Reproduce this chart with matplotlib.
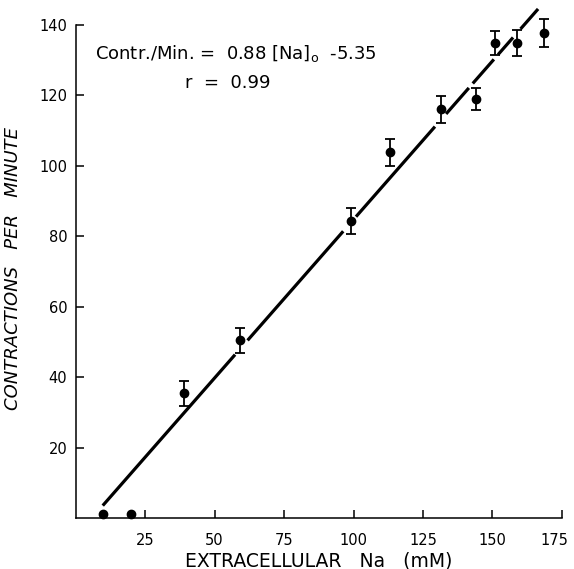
import numpy as np
import matplotlib
matplotlib.use("Agg")
import matplotlib.pyplot as plt
import matplotlib.transforms as mtransforms

# data
na_mM = [10, 20, 39, 59, 99, 113, 131.5, 144, 151, 158.7, 168.6]
contr = [1, 1, 35.4, 50.4, 84.3, 103.8, 116.0, 118.9, 134.8, 134.8, 137.6]
err = [0, 0, 3.5, 3.6, 3.6, 3.8, 3.8, 3.2, 3.5, 3.7, 4.0]

# regression line as drawn (broken where it passes the points)
fit_slope = 0.90
fit_intercept = -5.3
fit_pieces = [(9.8, 57.4), (61.9, 96.3), (100.9, 129.3), (133.3, 141.5),
              (142.9, 150.5), (152.0, 157.4), (160.1, 166.4)]

xticks = [25, 50, 75, 100, 125, 150, 175]
yticks = [20, 40, 60, 80, 100, 120, 140]

plt.rcParams['font.family'] = ['DejaVu Sans']

fig = plt.figure(figsize=(5.74, 5.69), dpi=100)
ax = fig.add_axes([75.5 / 574, 51 / 569, 486.5 / 574, 518 / 569])

for a, b in fit_pieces:
    xs = np.array([a, b])
    ax.plot(xs, fit_slope * xs + fit_intercept, color='black', lw=2.3,
            solid_capstyle='butt')

with_err = [i for i in range(len(na_mM)) if err[i] > 0]
ax.errorbar([na_mM[i] for i in with_err], [contr[i] for i in with_err],
            yerr=[err[i] for i in with_err], fmt='none', ecolor='black',
            elinewidth=1.3, capsize=3.5, capthick=1.3)
ax.plot(na_mM, contr, 'o', color='black', markersize=6, clip_on=False, zorder=5)

ax.set_xlim(0, 175)
ax.set_ylim(0, 147)
ax.spines['top'].set_visible(False)
ax.spines['right'].set_visible(False)
ax.spines['left'].set_bounds(0, 140)
ax.spines['left'].set_linewidth(1.1)
ax.spines['bottom'].set_linewidth(1.1)

ax.set_xticks(xticks)
ax.set_yticks(yticks)
ax.tick_params(direction='in', length=6, width=1.1, labelsize=10.5, pad=11)
ax.tick_params(axis='y', pad=6)

# last x label sits a little left of its tick in the original
last = ax.get_xticklabels()[-1]
last.set_transform(last.get_transform() +
                   mtransforms.ScaledTranslation(-8 / 100, 0, fig.dpi_scale_trans))

ax.set_xlabel('EXTRACELLULAR   Na   (mM)', fontsize=13.5, labelpad=2)
ax.set_ylabel('CONTRACTIONS   PER   MINUTE', fontsize=13, style='italic')
ax.yaxis.set_label_coords(-53 / 486.5, 250 / 518)

fig.text(95 / 574, 1 - 53 / 569, 'Contr./Min. =  0.88 [Na]$_\\mathrm{o}$  -5.35',
         fontsize=13, va='center', ha='left')
fig.text(185 / 574, 1 - 83 / 569, 'r  =  0.99', fontsize=13, va='center', ha='left')

fig.savefig('out.png', dpi=100)
